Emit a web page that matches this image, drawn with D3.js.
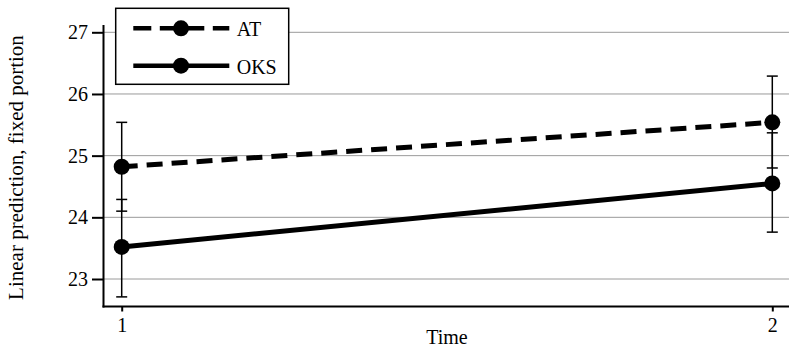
<!DOCTYPE html>
<html>
<head>
<meta charset="utf-8">
<script src="https://cdn.jsdelivr.net/npm/d3@7"></script>
<style>
    body { margin: 0; background: #fff; }
    svg { display: block; }
    svg text { font-family: "Liberation Serif", "Times New Roman", serif; }
</style>
</head>
<body>
<svg id="chart" width="789" height="350"></svg>
<script>
// data
var times = [1, 2];
var yTicks = [23, 24, 25, 26, 27];

var atMean = [24.82, 25.54];
var atLow = [24.10, 24.80];
var atHigh = [25.54, 26.29];

var oksMean = [23.52, 24.55];
var oksLow = [22.71, 23.76];
var oksHigh = [24.29, 25.37];

var seriesNames = ["AT", "OKS"];

var svg = d3.select("#chart");

var x = d3.scaleLinear().domain([1, 2]).range([121.7, 772.3]);
var y = d3.scaleLinear().domain([23, 27]).range([279, 32.3]);

var axisLeftX = 103.5,
    axisBottomY = 306.5,
    plotRight = 789,
    plotTop = 25;

function makeSeries(name, mean, low, high, dash){
    return times.map(function(t, i){
        return {name: name, t: t, mean: mean[i], low: low[i], high: high[i], dash: dash};
    });
}

var series = [
    makeSeries("AT", atMean, atLow, atHigh, "16,9"),
    makeSeries("OKS", oksMean, oksLow, oksHigh, null)
];

/*
 *** gridlines
 */
svg.append("g")
    .selectAll("line")
    .data(yTicks)
    .enter().append("line")
    .attr("x1", axisLeftX)
    .attr("x2", plotRight)
    .attr("y1", function(d){ return y(d); })
    .attr("y2", function(d){ return y(d); })
    .attr("stroke", "#9a9a9a")
    .attr("stroke-width", 1);

/*
 *** error bars
 */
var allPoints = series[0].concat(series[1]);
var bars = svg.append("g").selectAll("g")
    .data(allPoints)
    .enter().append("g");

bars.append("line")
    .attr("x1", function(d){ return x(d.t); })
    .attr("x2", function(d){ return x(d.t); })
    .attr("y1", function(d){ return y(d.low); })
    .attr("y2", function(d){ return y(d.high); })
    .attr("stroke", "#000")
    .attr("stroke-width", 1.5);

["low", "high"].forEach(function(k){
    bars.append("line")
        .attr("x1", function(d){ return x(d.t) - 5.5; })
        .attr("x2", function(d){ return x(d.t) + 5.5; })
        .attr("y1", function(d){ return y(d[k]); })
        .attr("y2", function(d){ return y(d[k]); })
        .attr("stroke", "#000")
        .attr("stroke-width", 1.5);
});

/*
 *** lines and markers
 */
var line = d3.line()
    .x(function(d){ return x(d.t); })
    .y(function(d){ return y(d.mean); });

series.forEach(function(s){
    svg.append("path")
        .datum(s)
        .attr("d", line)
        .attr("fill", "none")
        .attr("stroke", "#000")
        .attr("stroke-width", 5)
        .attr("stroke-dasharray", s[0].dash);

    svg.append("g").selectAll("circle")
        .data(s)
        .enter().append("circle")
        .attr("cx", function(d){ return x(d.t); })
        .attr("cy", function(d){ return y(d.mean); })
        .attr("r", 8)
        .attr("fill", "#000");
});

/*
 *** axes
 */
var yAxis = svg.append("g")
    .attr("transform", "translate(" + axisLeftX + ",0)")
    .call(d3.axisLeft(y).tickValues(yTicks).tickSize(11.5).tickPadding(4).tickFormat(d3.format("d")));
yAxis.attr("font-family", null).attr("font-size", null);
yAxis.select(".domain").remove();
yAxis.selectAll(".tick line").attr("stroke-width", 2);
yAxis.selectAll("text").style("font-size", "20px").attr("fill", "#000");

svg.append("line")
    .attr("x1", axisLeftX).attr("x2", axisLeftX)
    .attr("y1", plotTop).attr("y2", axisBottomY + 1)
    .attr("stroke", "#000").attr("stroke-width", 2);

var xAxis = svg.append("g")
    .attr("transform", "translate(0," + axisBottomY + ")")
    .call(d3.axisBottom(x).tickValues(times).tickSize(5).tickPadding(6).tickFormat(d3.format("d")));
xAxis.attr("font-family", null).attr("font-size", null);
xAxis.select(".domain").remove();
xAxis.selectAll(".tick line").attr("stroke-width", 2);
xAxis.selectAll("text").style("font-size", "20px").attr("fill", "#000");

svg.append("line")
    .attr("x1", axisLeftX - 1).attr("x2", plotRight)
    .attr("y1", axisBottomY).attr("y2", axisBottomY)
    .attr("stroke", "#000").attr("stroke-width", 2);

svg.append("text")
    .attr("x", 447)
    .attr("y", 344)
    .attr("text-anchor", "middle")
    .style("font-size", "20px")
    .text("Time");

svg.append("text")
    .attr("transform", "translate(23," + 167.5 + ") rotate(-90)")
    .attr("text-anchor", "middle")
    .style("font-size", "21px")
    .text("Linear prediction, fixed portion");

/*
 *** legend
 */
var legend = svg.append("g");
legend.append("rect")
    .attr("x", 115.7).attr("y", 8.3)
    .attr("width", 173).attr("height", 76)
    .attr("fill", "#fff")
    .attr("stroke", "#000")
    .attr("stroke-width", 1.5);

var legendRows = legend.selectAll("g")
    .data(series)
    .enter().append("g")
    .attr("transform", function(d, i){ return "translate(0," + (28.3 + i * 37.4) + ")"; });

legendRows.append("line")
    .attr("x1", 133.3).attr("x2", 229.3)
    .attr("stroke", "#000")
    .attr("stroke-width", 4.5)
    .attr("stroke-dasharray", function(d){ return d[0].dash ? "18,8.5" : null; });

legendRows.append("circle")
    .attr("cx", 181).attr("r", 8).attr("fill", "#000");

legendRows.append("text")
    .attr("x", 236.7).attr("y", 8)
    .style("font-size", "20px")
    .text(function(d, i){ return seriesNames[i]; });
</script>
</body>
</html>
